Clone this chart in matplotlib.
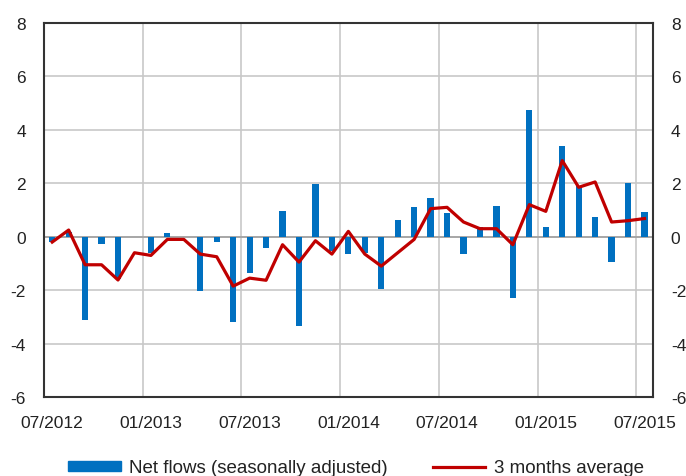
import numpy as np
import matplotlib.pyplot as plt
from matplotlib.patches import Patch
from matplotlib.lines import Line2D

plt.rcParams['font.family'] = ['Liberation Sans', 'DejaVu Sans']
plt.rcParams['axes.unicode_minus'] = False

# Monthly data, 07/2012 - 07/2015
months = ['07/2012', '08/2012', '09/2012', '10/2012', '11/2012', '12/2012',
          '01/2013', '02/2013', '03/2013', '04/2013', '05/2013', '06/2013',
          '07/2013', '08/2013', '09/2013', '10/2013', '11/2013', '12/2013',
          '01/2014', '02/2014', '03/2014', '04/2014', '05/2014', '06/2014',
          '07/2014', '08/2014', '09/2014', '10/2014', '11/2014', '12/2014',
          '01/2015', '02/2015', '03/2015', '04/2015', '05/2015', '06/2015',
          '07/2015']
net_flows = [-0.2, 0.16, -3.11, -0.28, -1.6, 0.0,
             -0.6, 0.15, 0.0, -2.05, -0.2, -3.2,
             -1.34, -0.44, 0.98, -3.36, 1.97, -0.55,
             -0.65, -0.6, -1.95, 0.62, 1.13, 1.45,
             0.9, -0.65, 0.35, 1.15, -2.3, 4.75,
             0.38, 3.4, 1.9, 0.75, -0.95, 2.0,
             0.92]
avg_3m = [-0.2, 0.25, -1.05, -1.05, -1.62, -0.6,
          -0.7, -0.1, -0.1, -0.65, -0.75, -1.85,
          -1.55, -1.63, -0.3, -0.95, -0.15, -0.65,
          0.2, -0.65, -1.1, -0.6, -0.1, 1.05,
          1.1, 0.55, 0.3, 0.3, -0.3, 1.2,
          0.95, 2.85, 1.85, 2.05, 0.55, 0.6,
          0.68]
tick_labels = ['07/2012', '01/2013', '07/2013', '01/2014',
               '07/2014', '01/2015', '07/2015']

blue = '#0070c0'
red = '#c00000'
text_col = '#222222'

fig = plt.figure(figsize=(6.86, 4.77), dpi=100)
ax = fig.add_axes([0.0641, 0.1656, 0.8874, 0.7841])

x = np.arange(len(months)) + 0.5
ax.bar(x, net_flows, width=0.38, color=blue, zorder=2)
ax.plot(x, avg_3m, color=red, lw=2.3, zorder=3)
ax.axhline(0, color='#a0a0a0', lw=1.2, zorder=1)

ax.set_xlim(0, len(months))
ax.set_ylim(-6, 8)
ax.set_yticks(np.arange(-6, 9, 2))

# gridlines at start of every six months, labels at month centres
for i in range(0, len(months), 6):
    ax.axvline(i, color='#c8c8c8', lw=1.2, zorder=0)
for yv in range(-4, 8, 2):
    ax.axhline(yv, color='#c8c8c8', lw=1.2, zorder=0)
lab_pos = [months.index(m) + 0.5 for m in tick_labels]
ax.set_xticks(lab_pos)
ax.set_xticklabels(tick_labels)

ax.tick_params(axis='both', length=0, labelsize=12.5, colors=text_col)
ax.tick_params(axis='x', pad=13)
ax.tick_params(axis='y', pad=13, labelright=True)
for s in ax.spines.values():
    s.set_color('#333333')
    s.set_linewidth(1.5)

handles = [Patch(color=blue), Line2D([], [], color=red, lw=2.3)]
fig.legend(handles, ['Net flows (seasonally adjusted)', '3 months average'],
           loc='center', bbox_to_anchor=(0.519, 0.017), ncol=2, frameon=False,
           fontsize=13.5, handlelength=2.8, handleheight=0.45,
           handletextpad=0.45, columnspacing=2.4, labelcolor=text_col)

fig.savefig('out.png', dpi=100)
